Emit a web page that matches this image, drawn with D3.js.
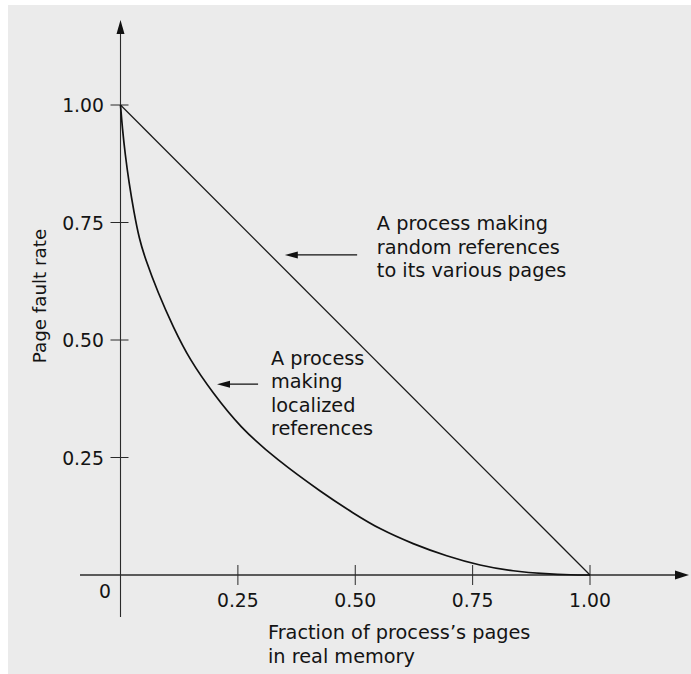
<!DOCTYPE html>
<html>
<head>
<meta charset="utf-8">
<script src="https://cdn.jsdelivr.net/npm/d3@7"></script>
<style>
  html, body { margin: 0; padding: 0; background: #ffffff; }
  svg { display: block; }
  text { font-family: "DejaVu Sans", "Open Sans", sans-serif; fill: #141414; }
</style>
</head>
<body>
<script>
// ---- data ----
const xTicks = [0.25, 0.50, 0.75, 1.00];
const xTickLabels = ["0.25", "0.50", "0.75", "1.00"];
const yTicks = [0.25, 0.50, 0.75, 1.00];
const yTickLabels = ["0.25", "0.50", "0.75", "1.00"];

const randomX = [0, 1];
const randomY = [1, 0];

const localizedX = [0, 0.004, 0.010, 0.018, 0.029, 0.040, 0.052, 0.080, 0.112, 0.148, 0.197, 0.254, 0.333, 0.431, 0.495, 0.553, 0.623, 0.695, 0.766, 0.836, 0.908, 0.96, 1.0];
const localizedY = [1.0, 0.95, 0.895, 0.835, 0.770, 0.715, 0.675, 0.600, 0.528, 0.457, 0.387, 0.315, 0.245, 0.174, 0.132, 0.097, 0.066, 0.040, 0.020, 0.008, 0.002, 0.0003, 0];

const xTitle = ["Fraction of process\u2019s pages", "in real memory"];
const yTitle = "Page fault rate";
const randomLabel = ["A process making", "random references", "to its various pages"];
const localizedLabel = ["A process", "making", "localized", "references"];

// ---- layout ----
const W = 691, H = 674;
const svg = d3.select("body").append("svg").attr("width", W).attr("height", H);

// scanned page background
svg.append("rect").attr("x", 8).attr("y", 5).attr("width", W - 8).attr("height", H - 5).attr("fill", "#ebebeb");

const x = d3.scaleLinear().domain([0, 1]).range([120.5, 590]);
const y = d3.scaleLinear().domain([0, 1]).range([575, 105]);

const axisColor = "#2a2a2a";
const FS = 18.8;
const LFS = 19.3;

// y axis line with arrow
svg.append("line").attr("x1", x(0)).attr("x2", x(0)).attr("y1", 30).attr("y2", 617)
  .attr("stroke", axisColor).attr("stroke-width", 1.1);
svg.append("path")
  .attr("d", `M${x(0)},20 L${x(0) - 4},34 L${x(0) + 4},34 Z`).attr("fill", "#111");

// x axis line with arrow
svg.append("line").attr("x1", 80).attr("x2", 678).attr("y1", y(0)).attr("y2", y(0))
  .attr("stroke", axisColor).attr("stroke-width", 1.3);
svg.append("path")
  .attr("d", `M689,${y(0)} L675,${y(0) - 4.5} L675,${y(0) + 4.5} Z`).attr("fill", "#111");

// y ticks
const gy = svg.append("g");
gy.selectAll("line.tk").data(yTicks).join("line").attr("class", "tk")
  .attr("x1", x(0) - 10).attr("x2", x(0) + 8).attr("y1", d => y(d)).attr("y2", d => y(d))
  .attr("stroke", axisColor).attr("stroke-width", 1);
gy.selectAll("text").data(yTicks).join("text")
  .attr("x", 104).attr("y", d => y(d) + 7).attr("text-anchor", "end")
  .attr("font-size", FS).text((d, i) => yTickLabels[i]);

// x ticks
const gx = svg.append("g");
gx.selectAll("line.tk").data(xTicks).join("line").attr("class", "tk")
  .attr("x1", d => x(d)).attr("x2", d => x(d)).attr("y1", y(0) - 10).attr("y2", y(0) + 10)
  .attr("stroke", axisColor).attr("stroke-width", 1);
gx.selectAll("text").data(xTicks).join("text")
  .attr("x", d => x(d)).attr("y", 607).attr("text-anchor", "middle")
  .attr("font-size", FS).text((d, i) => xTickLabels[i]);
svg.append("text").attr("x", 105).attr("y", 598).attr("text-anchor", "middle")
  .attr("font-size", FS).text("0");

// axis titles
svg.append("text").attr("x", 268).attr("y", 639).attr("font-size", LFS).text(xTitle[0]);
svg.append("text").attr("x", 268).attr("y", 663).attr("font-size", LFS).text(xTitle[1]);
svg.append("text").attr("transform", "translate(46,296) rotate(-90)")
  .attr("text-anchor", "middle").attr("font-size", 18.3).text(yTitle);

// curves
const line = d3.line().x(d => x(d[0])).y(d => y(d[1]));
svg.append("path").datum(randomX.map((v, i) => [v, randomY[i]]))
  .attr("d", line).attr("fill", "none").attr("stroke", "#1a1a1a").attr("stroke-width", 1.3);

svg.append("path").datum(localizedX.map((v, i) => [v, localizedY[i]]))
  .attr("d", line.curve(d3.curveBasis)).attr("fill", "none").attr("stroke", "#111").attr("stroke-width", 1.7);

// annotations (in data units)
function arrow(tipX, tipY, tailX) {
  const tx = x(tipX), ty = y(tipY);
  svg.append("line").attr("x1", tx + 10).attr("x2", x(tailX)).attr("y1", ty).attr("y2", ty)
    .attr("stroke", "#111").attr("stroke-width", 1.2);
  svg.append("path").attr("d", `M${tx},${ty} L${tx + 13},${ty - 3.5} L${tx + 13},${ty + 3.5} Z`).attr("fill", "#111");
}
arrow(0.350, 0.681, 0.504);
arrow(0.2055, 0.406, 0.293);

function label(lines, dx, dy) {
  lines.forEach((t, i) => {
    svg.append("text").attr("x", x(dx)).attr("y", y(dy) + i * 23.5)
      .attr("font-size", LFS).text(t);
  });
}
label(randomLabel, 0.546, 0.734);
label(localizedLabel, 0.3205, 0.447);
</script>
</body>
</html>
